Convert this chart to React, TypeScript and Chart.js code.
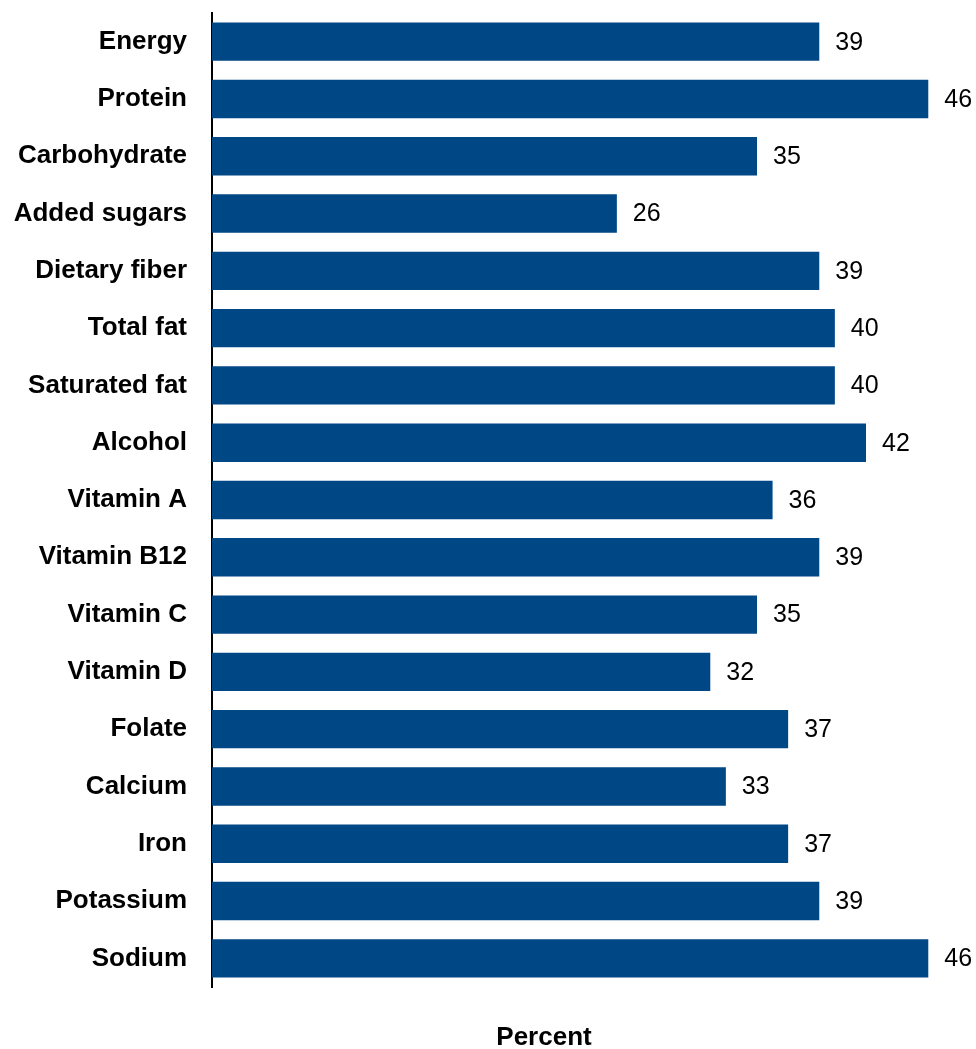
import React, { useEffect, useRef } from "react";
import { Chart, registerables } from "chart.js";

Chart.register(...registerables);

const categories = [
  "Energy", "Protein", "Carbohydrate", "Added sugars", "Dietary fiber",
  "Total fat", "Saturated fat", "Alcohol", "Vitamin A", "Vitamin B12",
  "Vitamin C", "Vitamin D", "Folate", "Calcium", "Iron", "Potassium", "Sodium",
];
const values = [39, 46, 35, 26, 39, 40, 40, 42, 36, 39, 35, 32, 37, 33, 37, 39, 46];
const axisTitle = "Percent";

const FONT = '"Liberation Sans", Arial, Helvetica, sans-serif';

const valueLabels = {
  id: "valueLabels",
  afterDatasetsDraw(chart: any) {
    const ctx = chart.ctx;
    const meta = chart.getDatasetMeta(0);
    ctx.save();
    ctx.font = `25px ${FONT}`;
    ctx.fillStyle = "#000";
    ctx.textAlign = "left";
    ctx.textBaseline = "middle";
    meta.data.forEach((bar: any, i: number) => {
      ctx.fillText(String(values[i]), bar.x + 16, bar.y + 1);
    });
    ctx.restore();
  },
};

const bottomTitle = {
  id: "bottomTitle",
  afterDraw(chart: any) {
    const ctx = chart.ctx;
    ctx.save();
    ctx.font = `bold 26px ${FONT}`;
    ctx.fillStyle = "#000";
    ctx.textAlign = "center";
    ctx.textBaseline = "middle";
    ctx.fillText(axisTitle, 544, 1038);
    ctx.restore();
  },
};

export default function App() {
  const ref = useRef<HTMLCanvasElement>(null);
  useEffect(() => {
    const chart = new Chart(ref.current!, {
      type: "bar",
      data: {
        labels: categories,
        datasets: [
          {
            data: values,
            backgroundColor: "#004785",
            categoryPercentage: 1,
            barPercentage: 0.67,
          },
        ],
      },
      options: {
        indexAxis: "y",
        animation: false,
        responsive: true,
        maintainAspectRatio: false,
        layout: { padding: { top: 13, bottom: 62, right: 1, left: 0 } },
        plugins: { legend: { display: false }, tooltip: { enabled: false } },
        scales: {
          x: {
            display: false,
            min: 0,
            max: 49,
          },
          y: {
            grid: { display: false, drawTicks: false },
            border: { display: true, color: "#000", width: 2 },
            ticks: {
              padding: 25,
              color: "#000",
              font: { family: FONT, size: 26, weight: "bold" },
            },
            afterFit(scale: any) {
              scale.width = 212;
              scale.paddingTop = 0;
              scale.paddingBottom = 0;
            },
          },
        },
      },
      plugins: [valueLabels, bottomTitle],
    });
    return () => chart.destroy();
  }, []);
  return (
    <div style={{ position: "absolute", left: 0, top: 0, width: 976, height: 1049 }}>
      <canvas ref={ref} />
    </div>
  );
}
